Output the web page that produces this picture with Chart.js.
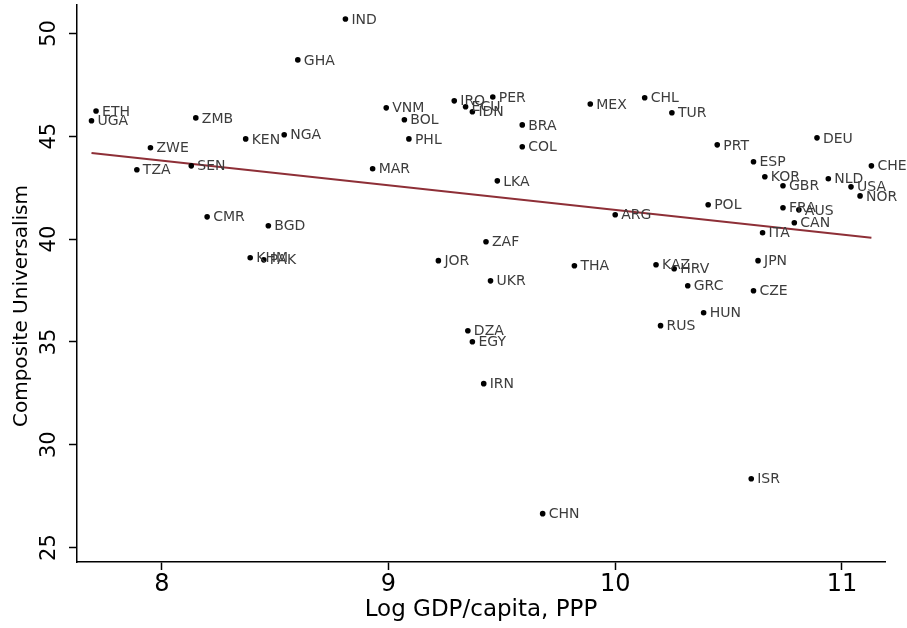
<!DOCTYPE html>
<html>
<head>
<meta charset="utf-8">
<script src="https://cdn.jsdelivr.net/npm/chart.js@4/dist/chart.umd.min.js"></script>
<style>
  html, body { margin: 0; padding: 0; background: #fff; }
  canvas { display: block; }
</style>
</head>
<body>
<canvas id="chart" width="907" height="628"></canvas>
<script>
// country codes, log GDP per capita (PPP) and composite universalism score
const codes = ["IND", "GHA", "ETH", "UGA", "ZMB", "KEN", "NGA", "ZWE", "TZA", "SEN",
  "CMR", "BGD", "KHM", "PAK", "VNM", "BOL", "PHL", "IRQ", "ECU", "IDN",
  "PER", "BRA", "COL", "MAR", "LKA", "MEX", "CHL", "TUR", "PRT", "DEU",
  "ESP", "KOR", "GBR", "NLD", "USA", "CHE", "NOR", "POL", "FRA", "AUS",
  "CAN", "ITA", "JPN", "CZE", "ARG", "ZAF", "JOR", "UKR", "THA", "KAZ",
  "HRV", "GRC", "HUN", "RUS", "DZA", "EGY", "IRN", "ISR", "CHN"];
const logGdp = [8.81, 8.60, 7.71, 7.69, 8.15, 8.37, 8.54, 7.95, 7.89, 8.13,
  8.20, 8.47, 8.39, 8.45, 8.99, 9.07, 9.09, 9.29, 9.34, 9.37,
  9.46, 9.59, 9.59, 8.93, 9.48, 9.89, 10.13, 10.25, 10.45, 10.89,
  10.61, 10.66, 10.74, 10.94, 11.04, 11.13, 11.08, 10.41, 10.74, 10.81,
  10.79, 10.65, 10.63, 10.61, 10.00, 9.43, 9.22, 9.45, 9.82, 10.18,
  10.26, 10.32, 10.39, 10.20, 9.35, 9.37, 9.42, 10.60, 9.68];
const universalism = [50.70, 48.71, 46.23, 45.75, 45.89, 44.87, 45.07, 44.44, 43.37, 43.56,
  41.08, 40.65, 39.09, 38.99, 46.38, 45.80, 44.87, 46.72, 46.43, 46.19,
  46.91, 45.55, 44.49, 43.42, 42.83, 46.57, 46.87, 46.14, 44.58, 44.92,
  43.76, 43.03, 42.59, 42.93, 42.54, 43.56, 42.10, 41.67, 41.52, 41.42,
  40.79, 40.31, 38.95, 37.49, 41.18, 39.87, 38.95, 37.97, 38.70, 38.75,
  38.56, 37.73, 36.42, 35.79, 35.54, 35.01, 32.97, 28.35, 26.65];

// fitted line end points
const fitX = [7.69, 11.13];
const fitY = [44.19, 40.06];

const xTicks = [8, 9, 10, 11];
const yTicks = [25, 30, 35, 40, 45, 50];

let points = logGdp.map((x, i) => ({x: x, y: universalism[i]}));
let fitLine = fitX.map((x, i) => ({x: x, y: fitY[i]}));

// writes the country code right of each dot
const pointLabels = {
  id: 'pointLabels',
  afterDatasetsDraw(chart) {
    const ctx = chart.ctx;
    const meta = chart.getDatasetMeta(0);
    ctx.save();
    ctx.font = '14px "DejaVu Sans"';
    ctx.fillStyle = '#3c3c3c';
    ctx.textAlign = 'left';
    ctx.textBaseline = 'middle';
    meta.data.forEach(function(pt, i) {
      ctx.fillText(codes[i], pt.x + 6, pt.y + 1);
    });
    ctx.restore();
  }
};

// y axis title, centred a little lower than the plot middle like the original
const yTitle = {
  id: 'yTitle',
  afterDraw(chart) {
    const ctx = chart.ctx;
    ctx.save();
    ctx.translate(22, 306);
    ctx.rotate(-Math.PI / 2);
    ctx.font = '20px "DejaVu Sans"';
    ctx.fillStyle = '#000';
    ctx.textAlign = 'center';
    ctx.textBaseline = 'middle';
    ctx.fillText('Composite Universalism', 0, 0);
    ctx.restore();
  }
};

new Chart(document.getElementById('chart'), {
  type: 'scatter',
  data: {
    datasets: [{
      label: 'countries',
      data: points,
      backgroundColor: '#000',
      borderColor: '#000',
      pointRadius: 2.8,
      borderWidth: 0
    }, {
      label: 'fit',
      data: fitLine,
      showLine: true,
      borderColor: '#8e2f37',
      borderWidth: 2,
      pointRadius: 0
    }]
  },
  options: {
    responsive: false,
    animation: false,
    devicePixelRatio: 1,
    layout: { padding: { top: 5, right: 22, left: 0, bottom: 0 } },
    plugins: { legend: { display: false }, tooltip: { enabled: false } },
    scales: {
      x: {
        type: 'linear',
        min: 7.626,
        max: 11.19,
        afterBuildTicks: s => { s.ticks = xTicks.map(v => ({value: v})); },
        afterFit: s => { s.height = 66; s.paddingLeft = 0; s.paddingRight = 0; },
        grid: { drawOnChartArea: false, drawTicks: true, tickLength: 8, color: '#000', tickWidth: 1.5 },
        border: { color: '#000', width: 1.5 },
        ticks: { color: '#000', font: { family: 'DejaVu Sans', size: 24 }, padding: 0, maxRotation: 0 },
        title: { display: true, text: 'Log GDP/capita, PPP', color: '#000',
          font: { family: 'DejaVu Sans', size: 23 }, padding: { top: 0, bottom: 4 } }
      },
      y: {
        type: 'linear',
        min: 24.3,
        max: 51.38,
        afterBuildTicks: s => { s.ticks = yTicks.map(v => ({value: v})); },
        afterFit: s => { s.width = 77; s.paddingTop = 0; s.paddingBottom = 0; },
        grid: { drawOnChartArea: false, drawTicks: true, tickLength: 8, color: '#000', tickWidth: 1.5 },
        border: { color: '#000', width: 1.5 },
        ticks: { color: '#000', font: { family: 'DejaVu Sans', size: 21 }, padding: 6,
          minRotation: 90, maxRotation: 90, crossAlign: 'center' }
      }
    }
  },
  plugins: [pointLabels, yTitle]
});
</script>
</body>
</html>
